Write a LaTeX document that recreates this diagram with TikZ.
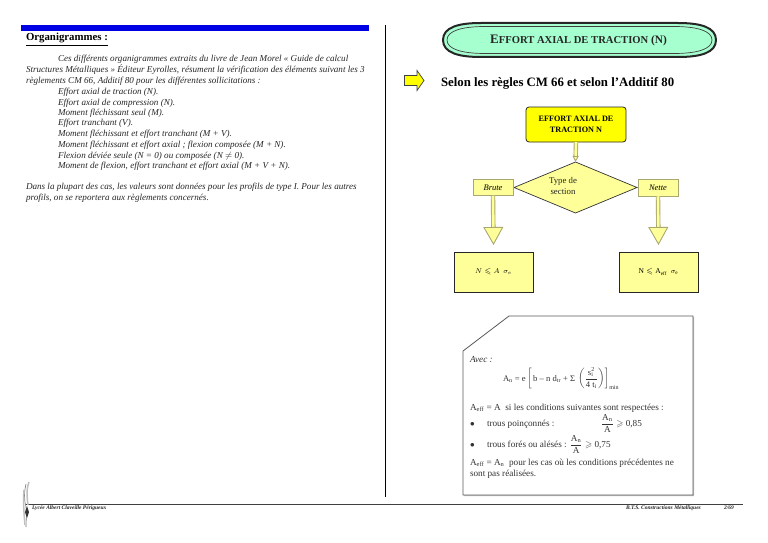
\documentclass[tikz,border=0pt]{standalone}
\usepackage{amsmath,amssymb}
\usepackage{fontspec}
\setmainfont{Liberation Serif}
\setmathrm{Liberation Serif}
\usetikzlibrary{arrows.meta,shapes.geometric,calc}
\definecolor{paley}{HTML}{FFFF99}
\definecolor{stry}{HTML}{FFFF00}
\definecolor{aqua}{HTML}{A6FFCF}
\definecolor{olv}{HTML}{A8A870}
\tikzset{
  x=1pt,y=-1pt,
  every node/.style={inner sep=0pt,outer sep=0pt},
  body/.style={font=\fontsize{9.1}{11}\selectfont\itshape,anchor=base west,text=black!85},
  note/.style={font=\fontsize{9.2}{11}\selectfont,anchor=base west,text=black!80},
  pbox/.style={draw=black!85,line width=.7pt,fill=paley,minimum width=79pt,minimum height=40pt,font=\fontsize{7.5}{9}\selectfont},
  tag/.style={draw=olv,line width=1pt,fill=paley,minimum width=40pt,minimum height=16.5pt,font=\fontsize{8.5}{10}\selectfont\itshape},
  fat/.style={draw=olv,line width=.9pt,double=paley,double distance=2.6pt,-{Triangle[open,length=18pt,width=20pt,fill=paley]}},
  thin tip/.style={draw=olv,line width=.9pt,double=paley,double distance=2.6pt,-{Triangle[open,length=6pt,width=6pt,fill=paley]}},
}
\newcommand{\pill}[4]{(#1,40) .. controls (#1,#3+4) and (#1+16,#3) .. (#1+38,#3) -- (#2-38,#3) .. controls (#2-16,#3) and (#2,#3+4) .. (#2,40) .. controls (#2,#4-4) and (#2-16,#4) .. (#2-38,#4) -- (#1+38,#4) .. controls (#1+16,#4) and (#1,#4-4) .. (#1,40) -- cycle}
\begin{document}
\begin{tikzpicture}
\useasboundingbox (0,0) rectangle (768,543);
% left column
\fill[blue!90!black] (21,25) rectangle (369,31);
\draw[black,line width=.8pt] (385,25) -- (385,497);
\node[anchor=base west,font=\fontsize{10.8}{12}\selectfont\bfseries] (head) at (26,41) {\underline{Organigrammes :}};
\node[body] (t1) at (58,62) {Ces différents organigrammes extraits du livre de Jean Morel « Guide de calcul};
\node[body] (t2) at (26,73) {Structures Métalliques » Éditeur Eyrolles, résument la vérification des éléments suivant les 3};
\node[body] (t3) at (26,83) {règlements CM 66, Additif 80 pour les différentes sollicitations :};
\node[body] (t4) at (58,94) {Effort axial de traction (N).};
\node[body] (t5) at (58,105) {Effort axial de compression (N).};
\node[body] (t6) at (58,115) {Moment fléchissant seul (M).};
\node[body] (t7) at (58,125) {Effort tranchant (V).};
\node[body] (t8) at (58,136) {Moment fléchissant et effort tranchant (M + V).};
\node[body] (t9) at (58,147) {Moment fléchissant et effort axial ; flexion composée (M + N).};
\node[body] (t10) at (58,158) {Flexion déviée seule (N = 0) ou composée (N $\neq$ 0).};
\node[body] (t11) at (58,168) {Moment de flexion, effort tranchant et effort axial (M + V + N).};
\node[body] (t12) at (26,189) {Dans la plupart des cas, les valeurs sont données pour les profils de type I. Pour les autres};
\node[body] (t13) at (26,200) {profils, on se reportera aux règlements concernés.};
% title
\draw[draw=black!85,line width=2pt,fill=aqua] \pill{443}{716}{23}{57};
\draw[black!75,line width=.7pt] \pill{447}{712}{26.5}{53.5};
\node[font=\fontsize{13}{14}\selectfont\bfseries,text=black!85] (title) at (578.5,40) {E\fontsize{10.6}{14}\selectfont FFORT AXIAL DE TRACTION \fontsize{11.4}{14}\selectfont(N)};
% selon
\draw[draw=black!75,fill=stry,line width=.7pt] (404.5,75.5) -- (417,75.5) -- (417,70.5) -- (424,80.5) -- (417,90.5) -- (417,85.5) -- (404.5,85.5) -- cycle;
\node[anchor=base west,font=\fontsize{12.8}{14}\selectfont\bfseries] (selon) at (441,86) {Selon les règles CM 66 et selon l’Additif 80};
% flow
\node[draw=black!85,line width=.8pt,fill=stry,rounded corners=3pt,minimum width=100pt,minimum height=35pt,align=center,font=\fontsize{8.2}{11}\selectfont\bfseries] (start) at (576,124.5) {EFFORT AXIAL DE\\TRACTION N};
\node[diamond,aspect=2.4,draw=black!80,line width=.7pt,fill=paley,minimum width=123pt,minimum height=51pt,inner sep=0pt] (dec) at (575.5,187.5) {};
\node[align=center,font=\fontsize{8.8}{11}\selectfont,text=black!85] (declab) at (563,185.5) {Type de\\section};
\node[tag] (brute) at (493,187.5) {Brute};
\node[tag] (nette) at (658,188) {Nette};
\node[pbox] (res1) at (493.5,272) {$N \leqslant A\ \ \sigma_{e}$};
\node[pbox] (res2) at (658.5,272) {$\mathrm{N} \leqslant \mathrm{A_{eff}}\ \ \sigma_{\mathrm{e}}$};
\coordinate (s1) at ($(res1.north)+(0,-7)$);
\coordinate (s2) at ($(res2.north)+(0,-7)$);
\draw[thin tip] (start.south) -- (dec.north);
\draw[fat] (brute.south) -- (s1);
\draw[fat] (nette.south) -- (s2);
% note panel
\fill[black!25] (509,317) -- (694.2,317) -- (694.2,496.2) -- (464,496.2) -- (464,351) -- cycle;
\draw[draw=black!65,fill=white,line width=.8pt] (463,351) -- (509,316) -- (693,316) -- (693,495) -- (463,495) -- cycle;
\node[note,font=\fontsize{9.2}{11}\selectfont\itshape] (n1) at (470,362) {Avec :};
\node[anchor=base west,font=\fontsize{8.6}{11}\selectfont,text=black!80] (n2) at (503,381) {A$_{\mathrm{n}}$ = e\,$\left[\text{\,b -- n d$_{\mathrm{tr}}$ + Σ\,}\left(\dfrac{\mathrm{s_i^2}}{\text{4 t$_{\mathrm{i}}$}}\right)\right]_{\mathrm{min}}$};
\node[note] (n3) at (470,410) {A$_{\mathrm{eff}}$ = A \ si les conditions suivantes sont respectées :};
\node[note] (n4) at (470,426) {$\bullet$};
\node[note] (n5) at (487,426) {trous poinçonnés :};
\node[note] (n6) at (601,426) {$\dfrac{\mathrm{A_n}}{\mathrm{A}} \geqslant$ 0,85};
\node[note] (n7) at (470,447) {$\bullet$};
\node[note] (n8) at (487,447) {trous forés ou alésés : $\dfrac{\mathrm{A_n}}{\mathrm{A}} \geqslant$ 0,75};
\node[note] (n9) at (470,465) {A$_{\mathrm{eff}}$ = A$_{\mathrm{n}}$ \ pour les cas où les conditions précédentes ne};
\node[note] (n10) at (470,476) {sont pas réalisées.};
% footer
\draw[black!75,line width=1pt] (26,504) -- (743,504);
\draw[black!55,line width=.6pt] (26,484) .. controls (24,492) and (24,500) .. (26,507) .. controls (27,513) and (26,520) .. (26,527);
\draw[black!25,line width=1.5pt] (29,482) .. controls (26,490) and (27,498) .. (28,505);
\draw[black!25,line width=1.5pt] (24,490) .. controls (23,500) and (24,515) .. (25,525);
\fill[black!80] (27,506) -- (29,512) -- (27,518) -- (25,512) -- cycle;
\node[anchor=base west,font=\fontsize{5.5}{6}\selectfont\bfseries\itshape,text=black!85] (f1) at (32,509) {Lycée Albert Claveille Périgueux};
\node[anchor=base west,font=\fontsize{5.5}{6}\selectfont\bfseries\itshape,text=black!85] (f2) at (626,509) {B.T.S. Constructions Métalliques};
\node[anchor=base west,font=\fontsize{5.5}{6}\selectfont\bfseries\itshape,text=black!85] (f3) at (724,509) {2/69};
\end{tikzpicture}
\end{document}
